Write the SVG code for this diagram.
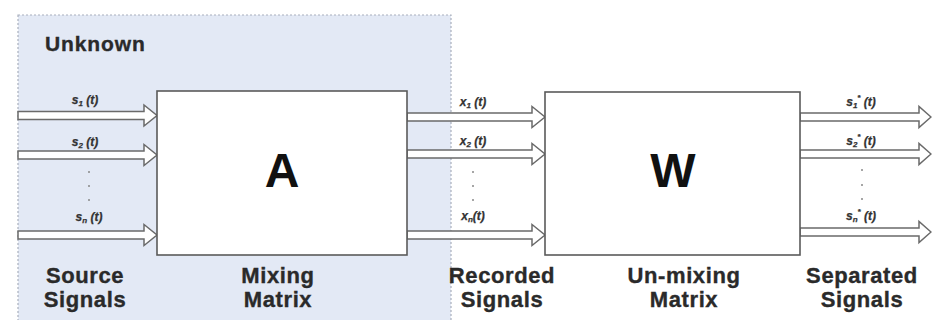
<svg xmlns="http://www.w3.org/2000/svg" width="932" height="320" viewBox="0 0 932 320">
<style>
.bg{fill:#ffffff}
.region{fill:#e3e9f5;stroke:#a9b0bd;stroke-width:1.2;stroke-dasharray:2 2}
.box{fill:#ffffff;stroke:#5a5a5a;stroke-width:1.6}
.arrow{fill:#ffffff;stroke:#6a6a6a;stroke-width:1.5;stroke-linejoin:miter}
.big{font-family:"Liberation Sans",Arial,sans-serif;font-weight:bold;font-size:48px;fill:#111;text-anchor:middle}
.cap{font-family:"Liberation Sans",Arial,sans-serif;font-weight:bold;font-size:22px;letter-spacing:0.6px;fill:#2a2a2a;stroke:#2a2a2a;stroke-width:0.35;text-anchor:middle}
.unk{font-family:"Liberation Sans",Arial,sans-serif;font-weight:bold;font-size:21px;letter-spacing:0.9px;fill:#2a2a2a;stroke:#2a2a2a;stroke-width:0.35}
.lbl{font-family:"Liberation Sans",Arial,sans-serif;font-weight:bold;font-style:italic;font-size:12px;fill:#333;stroke:#333;stroke-width:0.25;text-anchor:middle}
.sub{font-size:8px}
.dot{fill:#888}
</style>
<rect class="bg" x="0" y="0" width="932" height="320"/>
<rect class="region" x="18" y="15" width="433" height="320"/>
<text class="unk" x="45" y="51">Unknown</text>

<g id="connectors">
  <path class="arrow" d="M18,111.5 H144 V105 L157,115.5 L144,126 V119.5 H18 Z"/>
  <path class="arrow" d="M18,151 H144 V144.5 L157,155 L144,165.5 V159 H18 Z"/>
  <path class="arrow" d="M18,231 H144 V224.5 L157,235 L144,245.5 V239 H18 Z"/>
  <path class="arrow" d="M407,113 H532 V106.5 L545,117 L532,127.5 V121 H407 Z"/>
  <path class="arrow" d="M407,150 H532 V143.5 L545,154 L532,164.5 V158 H407 Z"/>
  <path class="arrow" d="M407,231 H532 V224.5 L545,235 L532,245.5 V239 H407 Z"/>
  <path class="arrow" d="M800,113 H919 V106.5 L931,117 L919,127.5 V121 H800 Z"/>
  <path class="arrow" d="M800,150 H919 V143.5 L931,154 L919,164.5 V158 H800 Z"/>
  <path class="arrow" d="M800,228 H919 V221.5 L931,232 L919,242.5 V236 H800 Z"/>
</g>

<g id="node-A">
  <rect class="box" x="157" y="91" width="250" height="164"/>
  <text class="big" x="282" y="187">A</text>
</g>
<g id="node-W">
  <rect class="box" x="545" y="92" width="255" height="163"/>
  <text class="big" x="673" y="187">W</text>
</g>

<g id="labels-source">
  <text class="lbl" x="85" y="104">s<tspan class="sub" dy="2">1</tspan><tspan dy="-2"> (t)</tspan></text>
  <text class="lbl" x="85" y="146">s<tspan class="sub" dy="2">2</tspan><tspan dy="-2"> (t)</tspan></text>
  <text class="lbl" x="89" y="221">s<tspan class="sub" dy="2">n</tspan><tspan dy="-2"> (t)</tspan></text>
  <circle class="dot" cx="89" cy="172" r="1"/>
  <circle class="dot" cx="89" cy="186" r="1"/>
  <circle class="dot" cx="89" cy="200" r="1"/>
  <text class="cap" x="85" y="283">Source</text>
  <text class="cap" x="85" y="307">Signals</text>
</g>
<g id="labels-mixing">
  <text class="cap" x="278" y="283">Mixing</text>
  <text class="cap" x="278" y="307">Matrix</text>
</g>
<g id="labels-recorded">
  <text class="lbl" x="473" y="106">x<tspan class="sub" dy="2">1</tspan><tspan dy="-2"> (t)</tspan></text>
  <text class="lbl" x="473" y="145">x<tspan class="sub" dy="2">2</tspan><tspan dy="-2"> (t)</tspan></text>
  <text class="lbl" x="473" y="220">x<tspan class="sub" dy="2">n</tspan><tspan dy="-2">(t)</tspan></text>
  <circle class="dot" cx="473" cy="172" r="1"/>
  <circle class="dot" cx="473" cy="186" r="1"/>
  <circle class="dot" cx="473" cy="200" r="1"/>
  <text class="cap" x="502" y="283">Recorded</text>
  <text class="cap" x="502" y="307">Signals</text>
</g>
<g id="labels-unmixing">
  <text class="cap" x="684" y="283">Un-mixing</text>
  <text class="cap" x="684" y="307">Matrix</text>
</g>
<g id="labels-separated">
  <text class="lbl" x="861" y="106">s<tspan class="sub" dy="2">1</tspan><tspan class="sub" dy="-8">*</tspan><tspan dy="6"> (t)</tspan></text>
  <text class="lbl" x="861" y="145">s<tspan class="sub" dy="2">2</tspan><tspan class="sub" dy="-8">*</tspan><tspan dy="6"> (t)</tspan></text>
  <text class="lbl" x="861" y="220">s<tspan class="sub" dy="2">n</tspan><tspan class="sub" dy="-8">*</tspan><tspan dy="6"> (t)</tspan></text>
  <circle class="dot" cx="862" cy="170" r="1"/>
  <circle class="dot" cx="862" cy="185" r="1"/>
  <circle class="dot" cx="862" cy="199" r="1"/>
  <text class="cap" x="862" y="283">Separated</text>
  <text class="cap" x="862" y="307">Signals</text>
</g>
</svg>
